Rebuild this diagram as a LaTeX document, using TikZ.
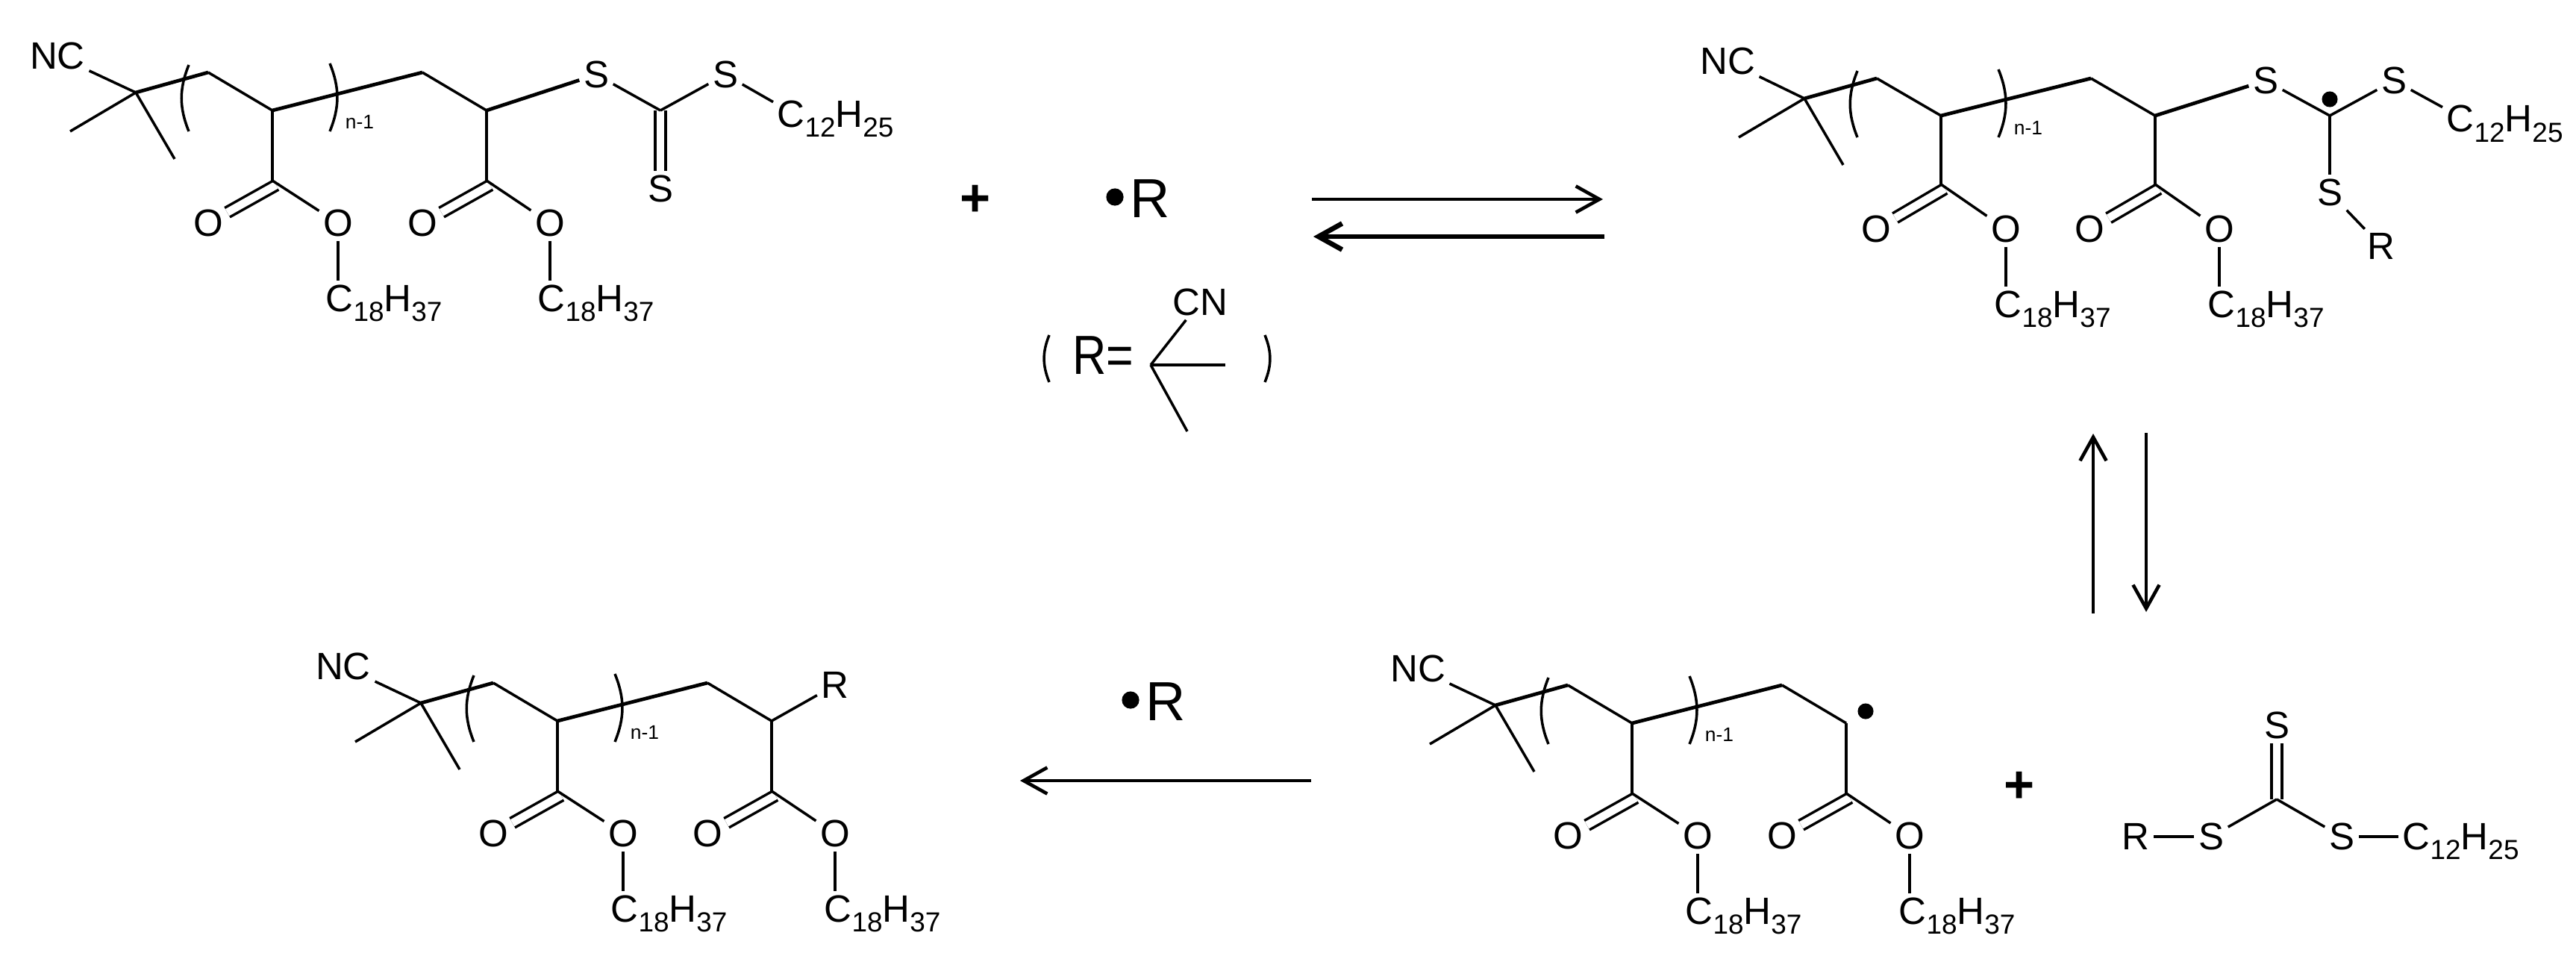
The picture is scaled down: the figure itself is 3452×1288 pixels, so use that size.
\documentclass[tikz,border=0pt]{standalone}
\usepackage{fontspec}
\setmainfont{Liberation Sans}
\usetikzlibrary{arrows.meta}
\newcommand{\dn}[1]{\raisebox{-.26em}{\fontsize{10.5}{12}\selectfont #1}}
\tikzset{
	atom/.style={inner sep=.05cm,font=\fontsize{14.5}{17}\selectfont},
	tail/.style={atom,anchor=base west},
	repeatno/.style={inner sep=0pt,font=\fontsize{7.5}{9}\selectfont},
	bigatom/.style={inner sep=0pt,font=\fontsize{21}{25}\selectfont},
	plus/.style={inner sep=0pt,font=\fontsize{20}{24}\selectfont\bfseries},
	bond/.style={line width=1pt},
	heavybond/.style={line width=1.35pt},
	dbl/.style={line width=1pt,double,double distance=.105cm},
	paren/.style={line width=1pt},
	react/.style={line width=1.3pt,-{Straight Barb[length=9pt,width=10pt]}}
}
\begin{document}
\begin{tikzpicture}[x=.01cm,y=-.01cm]
\useasboundingbox (0,0) rectangle (3452,1288);
% first chain
\coordinate (A) at (182,124);
\coordinate (A1) at (94,176);
\coordinate (A2) at (234,213);
\coordinate (A3) at (279,97);
\coordinate (A4) at (365,148);
\coordinate (A5) at (365,242);
\coordinate (A6) at (566,97);
\coordinate (A7) at (652,148);
\coordinate (A8) at (652,242);
\coordinate (A9) at (370,248);
\coordinate (A10) at (657,248);
\coordinate (A11) at (885,148);
\coordinate (AL1) at (253,87);
\coordinate (AL2) at (253,176);
\coordinate (AR1) at (442,85);
\coordinate (AR2) at (442,176);
\node[atom] (ANC) at (77,75) {NC};
\node[repeatno] (An) at (482,163) {n-1};
\node[atom] (AO1) at (279,299) {O};
\node[atom] (AO2) at (453,299) {O};
\node[atom] (AO3) at (566,299) {O};
\node[atom] (AO4) at (737,299) {O};
\node[tail] (AC1) at (431,417) {C\dn{18}H\dn{37}};
\node[tail] (AC2) at (715,417) {C\dn{18}H\dn{37}};
\node[atom] (AS1) at (799,100) {S};
\node[atom] (AS2) at (972,100) {S};
\node[atom] (AS3) at (885,253) {S};
\node[tail] (AC3) at (1036,170) {C\dn{12}H\dn{25}};
\draw[dbl] (A9) -- (AO1);
\draw[dbl] (A10) -- (AO3);
\draw[dbl] (A11) -- (AS3);
\draw[bond] (ANC) -- (A);
\draw[bond] (A1) -- (A);
\draw[bond] (A2) -- (A);
\draw[heavybond] (A) -- (A3);
\draw[bond] (A3) -- (A4);
\draw[bond] (A4) -- (A5);
\draw[heavybond] (A4) -- (A6);
\draw[bond] (A6) -- (A7);
\draw[bond] (A7) -- (A8);
\draw[bond] (A5) -- (AO2);
\draw[bond] (A8) -- (AO4);
\draw[bond] (AO2) -- (AO2 |- AC1.north);
\draw[bond] (AO4) -- (AO4 |- AC2.north);
\draw[heavybond] (A7) -- (AS1);
\draw[bond] (AS1) -- (A11);
\draw[bond] (AS2) -- (A11);
\draw[bond] (AS2) -- (AC3.165);
\draw[paren] (AL1) to[bend right=22] (AL2);
\draw[paren] (AR1) to[bend left=22] (AR2);
% adduct
\begin{scope}[shift={(2236,8)}]
\coordinate (B) at (182,124);
\coordinate (B1) at (94,176);
\coordinate (B2) at (234,213);
\coordinate (B3) at (279,97);
\coordinate (B4) at (365,147);
\coordinate (B5) at (365,239);
\coordinate (B6) at (566,97);
\coordinate (B7) at (652,147);
\coordinate (B8) at (652,239);
\coordinate (B9) at (370,245);
\coordinate (B10) at (657,245);
\coordinate (B11) at (886,147);
\coordinate (B12) at (886,125);
\coordinate (BL1) at (253,87);
\coordinate (BL2) at (253,176);
\coordinate (BR1) at (442,85);
\coordinate (BR2) at (442,176);
\node[atom] (BNC) at (79,74) {NC};
\node[repeatno] (Bn) at (482,163) {n-1};
\node[atom] (BO1) at (278,299) {O};
\node[atom] (BO2) at (452,299) {O};
\node[atom] (BO3) at (564,299) {O};
\node[atom] (BO4) at (738,299) {O};
\node[tail] (BC1) at (431,417) {C\dn{18}H\dn{37}};
\node[tail] (BC2) at (717,417) {C\dn{18}H\dn{37}};
\node[atom] (BS1) at (800,100) {S};
\node[atom] (BS2) at (972,100) {S};
\node[atom] (BS3) at (886,250) {S};
\node[atom] (BX) at (955,322) {R};
\node[tail] (BC3) at (1037,169) {C\dn{12}H\dn{25}};
\draw[dbl] (B9) -- (BO1);
\draw[dbl] (B10) -- (BO3);
\draw[bond] (BNC) -- (B);
\draw[bond] (B1) -- (B);
\draw[bond] (B2) -- (B);
\draw[heavybond] (B) -- (B3);
\draw[bond] (B3) -- (B4);
\draw[bond] (B4) -- (B5);
\draw[heavybond] (B4) -- (B6);
\draw[bond] (B6) -- (B7);
\draw[bond] (B7) -- (B8);
\draw[bond] (B5) -- (BO2);
\draw[bond] (B8) -- (BO4);
\draw[bond] (BO2) -- (BO2 |- BC1.north);
\draw[bond] (BO4) -- (BO4 |- BC2.north);
\draw[heavybond] (B7) -- (BS1);
\draw[bond] (BS1) -- (B11);
\draw[bond] (BS2) -- (B11);
\draw[bond] (B11) -- (BS3);
\draw[bond] (BS3) -- (BX);
\draw[bond] (BS2) -- (BC3.165);
\draw[paren] (BL1) to[bend right=22] (BL2);
\draw[paren] (BR1) to[bend left=22] (BR2);
\fill (B12) circle [radius=3pt];
\end{scope}
% capped chain
\begin{scope}[shift={(382,818)}]
\coordinate (C) at (182,124);
\coordinate (C1) at (94,176);
\coordinate (C2) at (234,213);
\coordinate (C3) at (279,97);
\coordinate (C4) at (365,148);
\coordinate (C5) at (365,242);
\coordinate (C6) at (566,97);
\coordinate (C7) at (652,148);
\coordinate (C8) at (652,242);
\coordinate (C9) at (370,248);
\coordinate (C10) at (657,248);
\coordinate (CL1) at (253,87);
\coordinate (CL2) at (253,176);
\coordinate (CR1) at (442,85);
\coordinate (CR2) at (442,176);
\node[atom] (CNC) at (78,75) {NC};
\node[repeatno] (Cn) at (482,163) {n-1};
\node[atom] (CO1) at (279,299) {O};
\node[atom] (CO2) at (453,299) {O};
\node[atom] (CO3) at (566,299) {O};
\node[atom] (CO4) at (737,299) {O};
\node[tail] (CC1) at (431,417) {C\dn{18}H\dn{37}};
\node[tail] (CC2) at (717,417) {C\dn{18}H\dn{37}};
\node[atom] (CX) at (737,100) {R};
\draw[dbl] (C9) -- (CO1);
\draw[dbl] (C10) -- (CO3);
\draw[bond] (CNC) -- (C);
\draw[bond] (C1) -- (C);
\draw[bond] (C2) -- (C);
\draw[heavybond] (C) -- (C3);
\draw[bond] (C3) -- (C4);
\draw[bond] (C4) -- (C5);
\draw[heavybond] (C4) -- (C6);
\draw[bond] (C6) -- (C7);
\draw[bond] (C7) -- (C8);
\draw[bond] (C5) -- (CO2);
\draw[bond] (C8) -- (CO4);
\draw[bond] (CO2) -- (CO2 |- CC1.north);
\draw[bond] (CO4) -- (CO4 |- CC2.north);
\draw[bond] (C7) -- (CX);
\draw[paren] (CL1) to[bend right=22] (CL2);
\draw[paren] (CR1) to[bend left=22] (CR2);
\end{scope}
% chain radical
\begin{scope}[shift={(1822,821)}]
\coordinate (D) at (182,124);
\coordinate (D1) at (94,176);
\coordinate (D2) at (234,213);
\coordinate (D3) at (279,97);
\coordinate (D4) at (365,148);
\coordinate (D5) at (365,242);
\coordinate (D6) at (566,97);
\coordinate (D7) at (652,148);
\coordinate (D8) at (652,242);
\coordinate (D9) at (370,248);
\coordinate (D10) at (657,248);
\coordinate (D11) at (678,132);
\coordinate (DL1) at (253,87);
\coordinate (DL2) at (253,176);
\coordinate (DR1) at (442,85);
\coordinate (DR2) at (442,176);
\node[atom] (DNC) at (78,75) {NC};
\node[repeatno] (Dn) at (482,163) {n-1};
\node[atom] (DO1) at (279,299) {O};
\node[atom] (DO2) at (453,299) {O};
\node[atom] (DO3) at (566,299) {O};
\node[atom] (DO4) at (737,299) {O};
\node[tail] (DC1) at (431,417) {C\dn{18}H\dn{37}};
\node[tail] (DC2) at (717,417) {C\dn{18}H\dn{37}};
\draw[dbl] (D9) -- (DO1);
\draw[dbl] (D10) -- (DO3);
\draw[bond] (DNC) -- (D);
\draw[bond] (D1) -- (D);
\draw[bond] (D2) -- (D);
\draw[heavybond] (D) -- (D3);
\draw[bond] (D3) -- (D4);
\draw[bond] (D4) -- (D5);
\draw[heavybond] (D4) -- (D6);
\draw[bond] (D6) -- (D7);
\draw[bond] (D7) -- (D8);
\draw[bond] (D5) -- (DO2);
\draw[bond] (D8) -- (DO4);
\draw[bond] (DO2) -- (DO2 |- DC1.north);
\draw[bond] (DO4) -- (DO4 |- DC2.north);
\draw[paren] (DL1) to[bend right=22] (DL2);
\draw[paren] (DR1) to[bend left=22] (DR2);
\fill (D11) circle [radius=3pt];
\end{scope}
% released trithiocarbonate
\coordinate (E) at (3051,1071);
\node[atom] (EX) at (2862,1121) {R};
\node[atom] (ES1) at (2963,1121) {S};
\node[atom] (ES2) at (3051,972) {S};
\node[atom] (ES3) at (3138,1121) {S};
\node[atom,anchor=base west] (EC) at (3214,1138) {C\dn{12}H\dn{25}};
\draw[dbl] (E) -- (ES2);
\draw[bond] (EX) -- (ES1);
\draw[bond] (ES1) -- (E);
\draw[bond] (E) -- (ES3);
\draw[bond] (ES3) -- (EC.west |- ES3);
% free radical and its definition
\node[plus] (P1) at (1307,269) {+};
\node[plus] (P2) at (2706,1055) {+};
\node[bigatom] (R1) at (1541,266) {R};
\node[bigatom] (R2) at (1562,940) {R};
\coordinate (R1d) at (1494,264);
\coordinate (R2d) at (1515,938);
\fill (R1d) circle [radius=3.3pt];
\fill (R2d) circle [radius=3.3pt];
\coordinate (F) at (1542,489);
\coordinate (F1) at (1642,489);
\coordinate (F2) at (1591,578);
\coordinate (FL1) at (1406,449);
\coordinate (FL2) at (1406,512);
\coordinate (FR1) at (1695,449);
\coordinate (FR2) at (1695,512);
\node[bigatom,xscale=.85,transform shape] (FR) at (1478,476) {R=};
\node[atom] (FCN) at (1608,405) {CN};
\draw[bond] (F) -- (FCN);
\draw[heavybond] (F) -- (F1);
\draw[bond] (F) -- (F2);
\draw[paren] (FL1) to[bend right=22] (FL2);
\draw[paren] (FR1) to[bend left=22] (FR2);
% arrows
\coordinate (T1) at (1758,267);
\coordinate (T2) at (2148,267);
\coordinate (T3) at (2150,317);
\coordinate (T4) at (1760,317);
\coordinate (T5) at (2805,822);
\coordinate (T6) at (2805,581);
\coordinate (T7) at (2876,580);
\coordinate (T8) at (2876,820);
\coordinate (T9) at (1757,1046);
\coordinate (T10) at (1367,1046);
\draw[react] (T1) -- (T2);
\draw[react,line width=1.9pt] (T3) -- (T4);
\draw[react] (T5) -- (T6);
\draw[react] (T7) -- (T8);
\draw[react] (T9) -- (T10);
\end{tikzpicture}
\end{document}
